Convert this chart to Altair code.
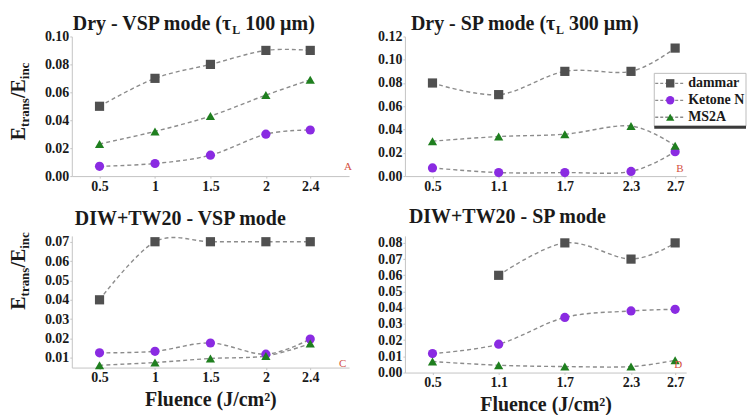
import altair as alt
import pandas as pd

SERIES = ["dammar", "Ketone N", "MS2A"]
COLORS = ["#505050", "#8a2be2", "#1f7f1f"]
SHAPES = ["square", "circle", "triangle-up"]

FLU_VSP = [0.5, 1, 1.5, 2, 2.4]
FLU_SP = [0.5, 1.1, 1.7, 2.3, 2.7]

A_DAMMAR = [0.050, 0.070, 0.080, 0.090, 0.090]
A_KETONE = [0.007, 0.009, 0.015, 0.030, 0.033]
A_MS2A = [0.023, 0.032, 0.043, 0.058, 0.069]

B_DAMMAR = [0.080, 0.070, 0.090, 0.090, 0.110]
B_KETONE = [0.007, 0.003, 0.003, 0.004, 0.021]
B_MS2A = [0.030, 0.034, 0.036, 0.043, 0.026]

C_DAMMAR = [0.040, 0.070, 0.070, 0.070, 0.070]
C_KETONE = [0.0126, 0.0134, 0.0177, 0.0119, 0.0197]
C_MS2A = [0.0062, 0.0076, 0.0097, 0.0110, 0.0174]

D_DAMMAR = [None, 0.060, 0.080, 0.070, 0.080]
D_KETONE = [0.0117, 0.0175, 0.034, 0.038, 0.039]
D_MS2A = [0.0068, 0.0045, 0.0037, 0.0037, 0.0076]

FONT = "Liberation Serif"
INK = "#1a1a1a"

# approximate advance widths (Times bold, per 1000 em) for laying out sub-scripted titles
CW = {' ': 250, '-': 333, '(': 333, ')': 333, '+': 570, '/': 278, '.': 250,
      'D': 722, 'r': 444, 'y': 500, 'V': 722, 'S': 556, 'P': 611, 'm': 833,
      'o': 500, 'd': 556, 'e': 444, 'τ': 440, 'L': 667, 'µ': 556, 'E': 667,
      't': 333, 'a': 500, 'n': 556, 's': 389, 'i': 278, 'c': 444}


def tw(s, size):
    return sum(CW.get(ch, 500) for ch in s) * size / 1000.0


def panel_df(flu, dammar, ketone, ms2a):
    rows = []
    for name, vals in zip(SERIES, [dammar, ketone, ms2a]):
        for f, v in zip(flu, vals):
            if v is not None:
                rows.append({"fluence": f, "series": name, "value": v})
    return pd.DataFrame(rows)


def piece(txt, x, y, size, angle=0, color=INK, weight="bold"):
    return alt.Chart(pd.DataFrame({"t": [txt]})).mark_text(
        font=FONT, fontSize=size, fontWeight=weight, align="left",
        baseline="alphabetic", angle=angle, color=color
    ).encode(x=alt.value(x), y=alt.value(y), text="t:N")


def sub_title(main, sub, rest, x0, y0, size=20, subsize=12, drop=4):
    w1 = tw(main, size)
    ws = tw(sub, subsize)
    layers = [piece(main, x0, y0, size), piece(sub, x0 + w1, y0 + drop, subsize)]
    if rest:
        layers.append(piece(rest, x0 + w1 + ws + tw(" ", size), y0, size))
    return layers


def y_title(bx, y0, size=20, subsize=13, drop=4):
    parts = [("E", size, 0), ("trans", subsize, drop), ("/E", size, 0), ("inc", subsize, drop)]
    out = []
    y = y0
    for txt, s, d in parts:
        out.append(piece(txt, bx + d, y, s, angle=270))
        y -= tw(txt, s)
    return out


def letter(ch, x, y):
    return piece(ch, x, y, 11, color="#d4503f", weight="normal")


def data_layers(df, flu, xdom, ydom, yticks, xtitle):
    x = alt.X("fluence:Q", scale=alt.Scale(domain=xdom, nice=False, zero=False),
              axis=alt.Axis(values=flu, format="~g", title=xtitle if xtitle else None))
    y = alt.Y("value:Q", scale=alt.Scale(domain=ydom, nice=False, zero=False),
              axis=alt.Axis(values=yticks, format=".2f", title=None))
    base = alt.Chart(df)
    line = base.mark_line(interpolate="cardinal", strokeDash=[4, 3], strokeWidth=1.4,
                          color="#8c8c8c").encode(x=x, y=y, detail="series:N")
    pts = base.mark_point(filled=True, size=85, opacity=1).encode(
        x=x, y=y,
        color=alt.Color("series:N", scale=alt.Scale(domain=SERIES, range=COLORS), legend=None),
        shape=alt.Shape("series:N", scale=alt.Scale(domain=SERIES, range=SHAPES), legend=None),
    )
    return alt.layer(line, pts)


FLUENCE_TITLE = "Fluence (J/cm²)"

# Panel A
pa = alt.layer(
    data_layers(panel_df(FLU_VSP, A_DAMMAR, A_KETONE, A_MS2A), FLU_VSP, [0.25, 2.75], [0, 0.10],
                [0, 0.02, 0.04, 0.06, 0.08, 0.10], None),
    *sub_title("Dry - VSP mode (τ", "L", "100 µm)", 1, -6),
    *y_title(-47, 104),
    letter("A", 273, 134),
).properties(width=278, height=140)

# Panel B with legend
leg_df = pd.DataFrame({"series": SERIES})
leg_y = alt.Y("series:N", scale=alt.Scale(type="point", domain=SERIES, range=[47, 81], padding=0), axis=None)
leg_box = alt.Chart(pd.DataFrame({"k": [0]})).mark_rect(fill="white", stroke="#bdbdbd", strokeWidth=1).encode(
    x=alt.value(250), x2=alt.value(342), y=alt.value(37), y2=alt.value(90))
leg_bottom = alt.Chart(pd.DataFrame({"k": [0]})).mark_rule(color="#3a3a3a", strokeWidth=3).encode(
    x=alt.value(250), x2=alt.value(342), y=alt.value(91))
leg_line = alt.Chart(leg_df).mark_rule(strokeDash=[3, 2], strokeWidth=1.3, color="#8c8c8c").encode(
    x=alt.value(251), x2=alt.value(281), y=leg_y)
leg_pts = alt.Chart(leg_df).mark_point(filled=True, size=70, opacity=1).encode(
    x=alt.value(266), y=leg_y,
    color=alt.Color("series:N", scale=alt.Scale(domain=SERIES, range=COLORS), legend=None),
    shape=alt.Shape("series:N", scale=alt.Scale(domain=SERIES, range=SHAPES), legend=None))
leg_txt = alt.Chart(leg_df).mark_text(font=FONT, fontSize=14, fontWeight="bold", align="left",
                                      baseline="middle", color=INK, limit=57, ellipsis=" ").encode(
    x=alt.value(284), y=leg_y, text="series:N")
legend = alt.layer(leg_box, leg_bottom, leg_line, leg_pts, leg_txt)

pb = alt.layer(
    alt.layer(
        data_layers(panel_df(FLU_SP, B_DAMMAR, B_KETONE, B_MS2A), FLU_SP, [0.25, 2.8], [0, 0.12],
                    [0, 0.02, 0.04, 0.06, 0.08, 0.10, 0.12], None),
        *sub_title("Dry - SP mode (τ", "L", "300 µm)", 6, -6),
        letter("B", 272, 136),
    ),
    legend,
).resolve_scale(y="independent").properties(width=282, height=140)

# Panel C
pc = alt.layer(
    data_layers(panel_df(FLU_VSP, C_DAMMAR, C_KETONE, C_MS2A), FLU_VSP, [0.25, 2.75], [0.005, 0.073],
                [0.01, 0.02, 0.03, 0.04, 0.05, 0.06, 0.07], FLUENCE_TITLE),
    piece("DIW+TW20 - VSP mode", 3, -11, 20),
    *y_title(-47, 74),
    letter("C", 268, 131),
).properties(width=278, height=132)

# Panel D
pd_ = alt.layer(
    data_layers(panel_df(FLU_SP, D_DAMMAR, D_KETONE, D_MS2A), FLU_SP, [0.25, 2.8], [0, 0.0843],
                [0, 0.01, 0.02, 0.03, 0.04, 0.05, 0.06, 0.07, 0.08], FLUENCE_TITLE),
    piece("DIW+TW20 - SP mode", 4, -13, 20),
    letter("D", 270, 132),
).properties(width=282, height=137)

chart = alt.concat(
    pa, pb, pc, pd_, columns=2,
    spacing=alt.RowColnumber(row=60, column=56), bounds="flush",
).properties(
    padding={"left": 9, "top": 14, "right": 0, "bottom": 0},
    background="white",
).configure_view(stroke=None).configure_axis(
    domainColor="#c4c4c4", tickColor="#c4c4c4", tickSize=2, labelPadding=1,
    labelFont=FONT, labelFontSize=14, labelFontWeight="bold", labelColor=INK,
    grid=False, titleFont=FONT, titleFontSize=20, titleFontWeight="bold", titleColor=INK,
    titlePadding=5,
)

chart.save("out.html", embed_options={"renderer": "svg", "actions": False})
